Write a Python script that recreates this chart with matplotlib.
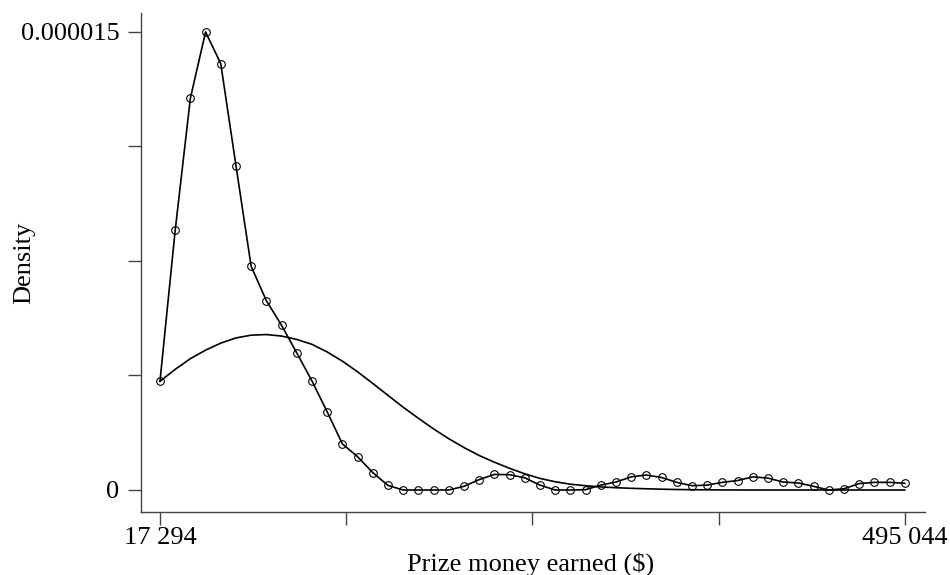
import matplotlib
matplotlib.use("Agg")
from matplotlib import pyplot as plt
import numpy as np

plt.rcParams['font.family'] = ['Liberation Serif', 'DejaVu Serif']

# grid of evaluation points (prize money, $)
x_start = 17294
x_end = 495044
n_pts = 50
prize = np.linspace(x_start, x_end, n_pts)

# kernel density estimate (units of 1e-6)
kdens = [3.56, 8.50, 12.83, 15.0, 13.96, 10.62, 7.32, 6.20, 5.39, 4.49,
         3.57, 2.56, 1.51, 1.09, 0.57, 0.15, 0.0, 0.0, 0.0, 0.0,
         0.12, 0.34, 0.51, 0.50, 0.40, 0.16, 0.0, 0.0, 0.01, 0.16,
         0.26, 0.43, 0.49, 0.41, 0.25, 0.14, 0.16, 0.25, 0.31, 0.43,
         0.39, 0.26, 0.23, 0.12, 0.0, 0.04, 0.21, 0.25, 0.25, 0.22]

# normal density overlay (units of 1e-6)
ndens = [3.56, 3.95, 4.30, 4.58, 4.81, 4.98, 5.07, 5.09, 5.04, 4.93,
         4.77, 4.52, 4.22, 3.87, 3.49, 3.10, 2.71, 2.35, 2.00, 1.68,
         1.39, 1.13, 0.91, 0.71, 0.53, 0.38, 0.27, 0.19, 0.14, 0.10,
         0.075, 0.055, 0.04, 0.026, 0.016, 0.009, 0.005, 0.002, 0.001, 0.0,
         0.0, 0.0, 0.0, 0.0, 0.0, 0.0, 0.0, 0.0, 0.0, 0.0]

kdens = np.array(kdens) * 1e-6
ndens = np.array(ndens) * 1e-6

fig = plt.figure(figsize=(9.5, 5.75), dpi=100)
ax = fig.add_axes([0.1484, 0.1096, 0.825, 0.8678])

ax.plot(prize, ndens, color='black', lw=1.2)
ax.plot(prize, kdens, color='black', lw=1.2, marker='o', ms=5.5,
        mfc='none', mec='black', mew=0.8)

step = (x_end - x_start) / 49
ax.set_xlim(x_start - 19 * step / 15.204, x_end + 20 * step / 15.204)
ax.set_ylim(-0.72e-6, 15.62e-6)

xt = np.linspace(x_start, x_end, 5)
ax.set_xticks(xt)
ax.set_xticklabels(['17 294', '', '', '', '495 044'])
yt = np.linspace(0, 15e-6, 5)
ax.set_yticks(yt)
ax.set_yticklabels(['0', '', '', '', '0.000015'])

for s in ['top', 'right']:
    ax.spines[s].set_visible(False)
for s in ['left', 'bottom']:
    ax.spines[s].set_color('#444444')
    ax.spines[s].set_linewidth(1.0)
ax.tick_params(direction='out', length=9.5, width=1.0, color='#444444',
               labelsize=19)
ax.tick_params(axis='x', pad=1)
ax.tick_params(axis='y', pad=6)

ax.set_xlabel('Prize money earned ($)', fontsize=19)
ax.set_ylabel('Density', fontsize=19)
ax.xaxis.set_label_coords(0.497, -0.080)
ax.yaxis.set_label_coords(-0.135, 0.5)

fig.savefig('out.png', dpi=100)
